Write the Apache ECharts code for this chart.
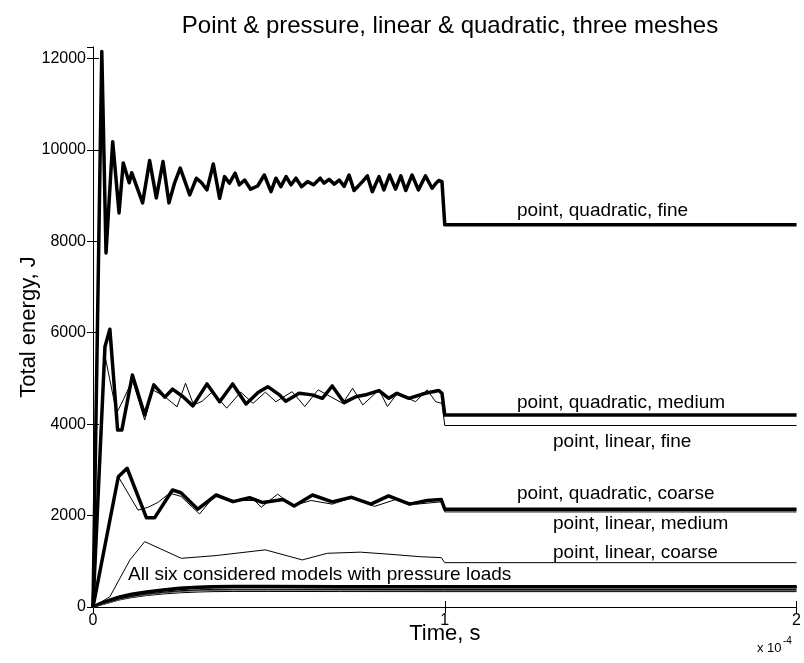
<!DOCTYPE html>
<html>
<head>
<meta charset="utf-8">
<script src="https://cdn.jsdelivr.net/npm/echarts@6/dist/echarts.min.js"></script>
<style>
  html, body { margin: 0; padding: 0; background: #fff; }
  #main { width: 804px; height: 663px; }
</style>
</head>
<body>
<div id="main"></div>
<script>
// time in units of 1e-4 s, energy in J

// point load, quadratic, fine
var qfT = [0, 0.025, 0.037, 0.056, 0.074, 0.086, 0.103, 0.110, 0.141, 0.161, 0.180, 0.199, 0.216, 0.232, 0.248, 0.275, 0.294, 0.308, 0.324, 0.342, 0.360, 0.374, 0.388, 0.404, 0.416, 0.431, 0.448, 0.468, 0.487, 0.506, 0.520, 0.534, 0.549, 0.563, 0.577, 0.593, 0.610, 0.627, 0.646, 0.657, 0.671, 0.686, 0.700, 0.714, 0.728, 0.742, 0.766, 0.780, 0.794, 0.813, 0.827, 0.843, 0.860, 0.875, 0.889, 0.907, 0.925, 0.945, 0.964, 0.975, 0.983, 0.992, 1.0, 2.0];
var qfE = [0, 12150, 7745, 10180, 8620, 9715, 9280, 9500, 8840, 9765, 8950, 9745, 8840, 9280, 9600, 9015, 9380, 9285, 9125, 9690, 8940, 9415, 9270, 9490, 9235, 9340, 9140, 9210, 9450, 9085, 9380, 9195, 9415, 9235, 9380, 9195, 9305, 9235, 9380, 9270, 9355, 9250, 9340, 9200, 9450, 9110, 9305, 9430, 9085, 9415, 9125, 9450, 9140, 9430, 9110, 9450, 9125, 9430, 9160, 9270, 9330, 9305, 8360, 8360];

// point load, quadratic, medium
var qmT = [0, 0.034, 0.048, 0.070, 0.082, 0.112, 0.147, 0.173, 0.204, 0.226, 0.256, 0.284, 0.324, 0.360, 0.397, 0.435, 0.470, 0.497, 0.530, 0.548, 0.586, 0.623, 0.652, 0.680, 0.714, 0.747, 0.779, 0.813, 0.841, 0.864, 0.898, 0.945, 0.983, 0.992, 1.0, 2.0];
var qmE = [0, 5695, 6075, 3870, 3870, 5075, 4200, 4860, 4590, 4765, 4600, 4400, 4880, 4490, 4880, 4440, 4700, 4820, 4640, 4500, 4675, 4640, 4565, 4835, 4470, 4600, 4650, 4735, 4565, 4675, 4565, 4675, 4735, 4675, 4200, 4200];

// point load, linear, fine
var lfT = [0, 0.034, 0.067, 0.086, 0.112, 0.147, 0.170, 0.204, 0.239, 0.263, 0.286, 0.310, 0.340, 0.380, 0.420, 0.455, 0.490, 0.520, 0.566, 0.602, 0.640, 0.710, 0.738, 0.767, 0.813, 0.837, 0.865, 0.917, 0.950, 0.974, 0.992, 1.0, 2.0];
var lfE = [0, 5500, 4240, 4530, 4965, 4090, 4750, 4600, 4380, 4895, 4420, 4500, 4710, 4350, 4700, 4455, 4700, 4490, 4710, 4385, 4750, 4455, 4785, 4420, 4750, 4385, 4675, 4490, 4750, 4490, 4455, 3970, 3970];

// point load, quadratic, coarse
var qcT = [0, 0.072, 0.097, 0.152, 0.175, 0.226, 0.250, 0.298, 0.350, 0.398, 0.445, 0.483, 0.540, 0.572, 0.624, 0.680, 0.735, 0.790, 0.840, 0.900, 0.950, 0.990, 1.0, 2.0];
var qcE = [0, 2850, 3035, 1950, 1950, 2560, 2500, 2140, 2450, 2305, 2390, 2285, 2350, 2210, 2450, 2300, 2400, 2250, 2430, 2250, 2330, 2350, 2140, 2140];

// point load, linear, medium
var lmT = [0, 0.072, 0.128, 0.156, 0.184, 0.218, 0.250, 0.303, 0.345, 0.400, 0.460, 0.478, 0.525, 0.567, 0.620, 0.680, 0.740, 0.800, 0.860, 0.920, 0.990, 1.0, 2.0];
var lmE = [0, 2850, 2120, 2180, 2285, 2490, 2420, 2035, 2430, 2330, 2330, 2180, 2470, 2210, 2330, 2250, 2400, 2200, 2350, 2250, 2300, 2080, 2080];

// point load, linear, coarse
var lcT = [0, 0.048, 0.105, 0.147, 0.251, 0.350, 0.490, 0.595, 0.666, 0.760, 0.850, 0.930, 0.990, 1.0, 2.0];
var lcE = [0, 225, 1030, 1430, 1065, 1125, 1250, 1030, 1175, 1200, 1150, 1100, 1080, 970, 970];

// pressure loads, all six models
var prT = [0, 0.02, 0.05, 0.076, 0.11, 0.152, 0.2, 0.246, 0.3, 0.341, 0.4, 0.5, 0.7, 1.0, 2.0];
var prQ1 = [0, 80, 160, 225, 285, 335, 380, 415, 440, 450, 455, 455, 450, 448, 448];
var prQ2 = [0, 70, 150, 215, 275, 325, 370, 405, 430, 440, 445, 445, 440, 440, 440];
var prQ3 = [0, 60, 140, 205, 265, 315, 360, 395, 420, 430, 435, 435, 430, 430, 430];
var prL1 = [0, 50, 120, 180, 235, 285, 325, 355, 375, 385, 388, 388, 385, 380, 380];
var prL2 = [0, 45, 110, 170, 225, 270, 310, 340, 360, 368, 372, 372, 370, 368, 368];
var prL3 = [0, 40, 100, 155, 205, 250, 285, 310, 328, 336, 340, 340, 338, 336, 336];

var xTicks = [0, 1, 2];

function pairs(t, e) {
  return t.map(function (v, i) { return [v, e[i]]; });
}

function line(name, t, e, width, color) {
  return {
    name: name,
    type: 'line',
    data: pairs(t, e),
    symbol: 'none',
    animation: false,
    lineStyle: { color: color || '#000', width: width, join: 'round' },
    z: width > 2 ? 3 : 4
  };
}

var myChart = echarts.init(document.getElementById('main'));
var labelStyle = { fontFamily: 'Liberation Sans, Arial', fontSize: 19, fill: '#000' };

var option = {
  backgroundColor: '#fff',
  title: {
    text: 'Point & pressure, linear & quadratic, three meshes',
    left: 445,
    textAlign: 'center',
    top: 9,
    textStyle: { fontFamily: 'Liberation Sans, Arial', fontSize: 24, fontWeight: 'normal', color: '#000' }
  },
  grid: { left: 93, right: 5, top: 47, bottom: 56 },
  xAxis: [
    {
      type: 'value', min: 0, max: 2, interval: 1,
      name: 'Time, s', nameLocation: 'middle', nameGap: 16, nameMoveOverlap: false,
      nameTextStyle: { fontFamily: 'Liberation Sans, Arial', fontSize: 22, color: '#000' },
      axisLine: { lineStyle: { color: '#000', width: 1 } },
      axisTick: { inside: true, length: 6, lineStyle: { color: '#000' } },
      axisLabel: { fontFamily: 'Liberation Sans, Arial', fontSize: 16, color: '#000', margin: 6,
        formatter: function (v) { return xTicks.indexOf(v) >= 0 ? String(v) : ''; } },
      splitLine: { show: false }
    },
    {
      type: 'value', min: 0, max: 2, interval: 1, position: 'top',
      axisLine: { lineStyle: { color: '#000', width: 1 } },
      axisTick: { inside: true, length: 6, lineStyle: { color: '#000' } },
      axisLabel: { show: false },
      splitLine: { show: false }
    }
  ],
  yAxis: [
    {
      type: 'value', min: 0, max: 12250, interval: 2000,
      name: 'Total energy, J', nameLocation: 'middle', nameGap: 53, nameMoveOverlap: false,
      nameTextStyle: { fontFamily: 'Liberation Sans, Arial', fontSize: 22, color: '#000' },
      axisLine: { show: true, lineStyle: { color: '#000', width: 1 } },
      axisTick: { show: true, inside: true, length: 6, lineStyle: { color: '#000' } },
      axisLabel: { fontFamily: 'Liberation Sans, Arial', fontSize: 16, color: '#000', margin: 7, showMaxLabel: false,
        formatter: function (v) { return String(v); } },
      splitLine: { show: false }
    },
    {
      type: 'value', min: 0, max: 12250, interval: 2000, position: 'right',
      axisLine: { show: true, lineStyle: { color: '#000', width: 1 } },
      axisTick: { show: true, inside: true, length: 6, lineStyle: { color: '#000' } },
      axisLabel: { show: false },
      splitLine: { show: false }
    }
  ],
  series: [
    line('pressure, linear, coarse', prT, prL3, 1, '#000'),
    line('pressure, linear, medium', prT, prL2, 1.5, '#666'),
    line('pressure, linear, fine', prT, prL1, 1, '#000'),
    line('pressure, quadratic, coarse', prT, prQ3, 2.5, '#000'),
    line('pressure, quadratic, medium', prT, prQ2, 2.5, '#000'),
    line('pressure, quadratic, fine', prT, prQ1, 3, '#000'),
    line('point, linear, coarse', lcT, lcE, 1, '#000'),
    line('point, linear, medium', lmT, lmE, 1, '#000'),
    line('point, quadratic, coarse', qcT, qcE, 3.5, '#000'),
    line('point, linear, fine', lfT, lfE, 1, '#000'),
    line('point, quadratic, medium', qmT, qmE, 3.5, '#000'),
    line('point, quadratic, fine', qfT, qfE, 3.5, '#000')
  ],
  graphic: [
    { type: 'text', left: 517, top: 201, style: Object.assign({ text: 'point, quadratic, fine' }, labelStyle) },
    { type: 'text', left: 517, top: 393, style: Object.assign({ text: 'point, quadratic, medium' }, labelStyle) },
    { type: 'text', left: 553, top: 432, style: Object.assign({ text: 'point, linear, fine' }, labelStyle) },
    { type: 'text', left: 517, top: 484, style: Object.assign({ text: 'point, quadratic, coarse' }, labelStyle) },
    { type: 'text', left: 553, top: 514, style: Object.assign({ text: 'point, linear, medium' }, labelStyle) },
    { type: 'text', left: 553, top: 543, style: Object.assign({ text: 'point, linear, coarse' }, labelStyle) },
    { type: 'text', left: 128, top: 565, style: Object.assign({ text: 'All six considered models with pressure loads' }, labelStyle) },
    { type: 'text', left: 757, top: 642, style: { text: 'x 10', fontFamily: 'Liberation Sans, Arial', fontSize: 13, fill: '#000' } },
    { type: 'text', left: 783, top: 636, style: { text: '-4', fontFamily: 'Liberation Sans, Arial', fontSize: 10, fill: '#000' } }
  ]
};

option && myChart.setOption(option);
</script>
</body>
</html>
